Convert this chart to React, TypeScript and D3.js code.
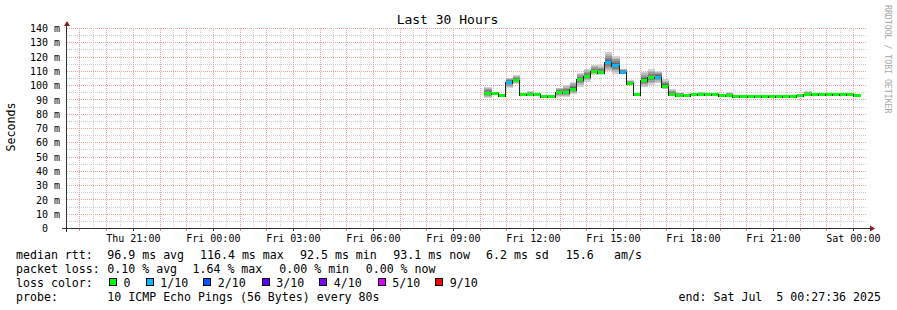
import React from "react";
import * as d3 from "d3";

const W = 897;
const H = 310;

const TITLE = "Last 30 Hours";
const Y_LABEL = "Seconds";
const WATERMARK = "RRDTOOL / TOBI OETIKER";

const START = new Date(2025, 6, 3, 18, 27, 36);
const END = new Date(2025, 6, 5, 0, 27, 36);
const DATA_START = new Date(2025, 6, 4, 10, 10, 0);
const STEP_MIN = 16;

// median rtt (ms) per 16-minute step
const median = [
  95.0, 94.5, 93.8, 102.5, 103.9, 94.3, 94.3, 94.3, 92.8, 92.8,
  95.5, 95.5, 98.0, 104.8, 106.7, 110.2, 109.7, 116.4, 114.3, 109.7,
  102.0, 94.3, 103.9, 106.0, 106.4, 100.0, 94.3, 93.3, 93.3, 94.3,
  94.3, 94.3, 94.3, 93.8, 93.8, 93.1, 93.1, 93.1, 93.1, 93.1,
  93.1, 93.1, 93.1, 93.1, 93.8, 94.3, 94.3, 94.3, 94.3, 94.3,
  94.3, 94.3, 93.7,
];
// smoke extent (lowest / highest ping, ms)
const smokeLo = [
  91.3, 93.8, 93.3, 98.3, 101.1, 93.8, 93.8, 93.8, 92.3, 92.3,
  92.4, 92.4, 94.0, 99.4, 102.9, 107.8, 107.8, 110.0, 108.2, 108.3,
  100.8, 93.8, 99.0, 100.8, 102.0, 97.4, 93.8, 92.8, 92.8, 93.8,
  93.8, 93.8, 93.8, 93.3, 93.3, 92.6, 92.6, 92.6, 92.6, 92.6,
  92.6, 92.6, 92.6, 92.6, 93.3, 93.8, 93.8, 93.8, 93.8, 93.8,
  93.8, 93.8, 93.2,
];
const smokeHi = [
  99.4, 95.2, 94.3, 105.7, 107.6, 94.8, 96.3, 94.8, 93.5, 93.5,
  98.7, 100.6, 102.7, 108.8, 111.9, 114.6, 114.2, 123.5, 121.0, 112.0,
  103.8, 94.8, 109.7, 111.4, 110.2, 104.5, 97.4, 95.5, 93.8, 94.8,
  95.8, 94.8, 94.8, 94.3, 95.3, 93.6, 93.6, 93.6, 93.6, 93.6,
  93.6, 93.6, 93.6, 93.6, 94.3, 96.3, 94.8, 94.8, 94.8, 94.8,
  94.8, 94.8, 94.2,
];
// lost pings (of 10) per step -> colour index
const lossIdx = [
  0, 0, 0, 1, 0, 0, 0, 0, 0, 0,
  0, 0, 0, 0, 0, 0, 0, 1, 1, 1,
  0, 0, 0, 0, 1, 0, 0, 0, 0, 0,
  0, 0, 0, 0, 0, 0, 0, 0, 0, 0,
  0, 0, 0, 0, 0, 0, 0, 0, 0, 0,
  0, 0, 0,
];

const lossColors = ["#00ff00", "#00b8ff", "#0059ff", "#5e00ff", "#7e00ff", "#dd00ff", "#ff0000"];
const lossLabels = ["0", "1/10", "2/10", "3/10", "4/10", "5/10", "9/10"];
const swatchX = [109, 145.7, 203.3, 261.7, 319.3, 377.7, 435.3];

const yTicks = [0, 10, 20, 30, 40, 50, 60, 70, 80, 90, 100, 110, 120, 130, 140];

const line1 = [
  { x: 16, t: "median rtt:" },
  { x: 107.3, t: "96.9 ms avg" },
  { x: 200, t: "116.4 ms max" },
  { x: 300, t: "92.5 ms min" },
  { x: 393.3, t: "93.1 ms now" },
  { x: 486, t: "6.2 ms sd" },
  { x: 565.7, t: "15.6" },
  { x: 614, t: "am/s" },
];
const line2 = [
  { x: 16, t: "packet loss:" },
  { x: 107.3, t: "0.10 % avg" },
  { x: 192.5, t: "1.64 % max" },
  { x: 279.3, t: "0.00 % min" },
  { x: 365.7, t: "0.00 % now" },
];
const LOSS_LABEL = "loss color:";
const PROBE_LABEL = "probe:";
const PROBE_TEXT = "10 ICMP Echo Pings (56 Bytes) every 80s";
const END_TEXT = "end: Sat Jul  5 00:27:36 2025";

const smokeColors = ["#d2d2d2", "#b8b8b8", "#9c9c9c", "#808080", "#646464"];

const MONO = "'DejaVu Sans Mono', monospace";
const PRE = { whiteSpace: "pre" as const };

export default function App() {
  const x = d3.scaleTime().domain([START, END]).range([65.6, 865.6]);
  const y = d3.scaleLinear().domain([0, 140]).range([228.5, 28.5]);
  const px = (v: number) => Math.floor(v) + 0.5;

  const halfHours = d3.timeMinute.every(30)!.range(START, END);
  const labelHours = d3.timeHour.every(3)!.range(START, END);
  const fmt = d3.timeFormat("%a %H:%M");
  const minorY = d3.range(5, 141, 5);

  const tAt = (i: number) => d3.timeMinute.offset(DATA_START, STEP_MIN * i);

  const steps = median.map((m, i) => {
    const x0 = Math.round(x(tAt(i)));
    const x1 = Math.round(x(tAt(i + 1)));
    return { i, x0, x1, m, lo: smokeLo[i], hi: smokeHi[i], c: lossColors[lossIdx[i]] };
  });

  const nL = smokeColors.length;

  return (
    <svg
      width={W}
      height={H}
      style={{ position: "fixed", left: 0, top: 0, background: "#fff" }}
      fontFamily={MONO}
    >
      <rect x={0} y={0} width={W} height={H} fill="#ffffff" />
      {/* grid */}
      <g shapeRendering="crispEdges" strokeDasharray="1 1">
        {minorY.map((v) => (
          <line
            key={"hy" + v}
            x1={67}
            x2={866}
            y1={px(y(v))}
            y2={px(y(v))}
            stroke={v % 10 === 0 ? "#f4a0a0" : "#cfcfcf"}
          />
        ))}
        {halfHours.map((t) => {
          const xx = px(x(t));
          if (xx < 67) return null;
          const major = t.getMinutes() === 0;
          return (
            <line
              key={"vx" + t.getTime()}
              x1={xx}
              x2={xx}
              y1={28}
              y2={228}
              stroke={major ? "#f4a0a0" : "#cfcfcf"}
            />
          );
        })}
      </g>
      {/* smoke */}
      <g shapeRendering="crispEdges">
        {steps.map((s) =>
          smokeColors.map((col, k) => {
            const f = 1 - k / nL;
            const top = y(s.m + (s.hi - s.m) * f);
            const bot = y(s.m - (s.m - s.lo) * f);
            return (
              <rect
                key={"s" + s.i + "-" + k}
                x={s.x0}
                y={top}
                width={s.x1 - s.x0}
                height={Math.max(0, bot - top)}
                fill={col}
              />
            );
          })
        )}
      </g>
      {/* median line */}
      <g shapeRendering="crispEdges">
        {steps.map((s) => (
          <rect
            key={"m" + s.i}
            x={s.x0}
            y={Math.round(y(s.m)) - 1}
            width={s.x1 - s.x0}
            height={3}
            fill={s.c}
          />
        ))}
        {steps.slice(0, -1).map((s) => {
          const n = steps[s.i + 1];
          const ya = Math.round(y(s.m));
          const yb = Math.round(y(n.m));
          return (
            <line
              key={"v" + s.i}
              x1={s.x1 - 0.5}
              x2={s.x1 - 0.5}
              y1={Math.min(ya, yb) - 0.5}
              y2={Math.max(ya, yb) + 1.5}
              stroke="#202020"
              strokeWidth={1}
            />
          );
        })}
      </g>
      {/* axes */}
      <g shapeRendering="crispEdges">
        <line x1={62} x2={871} y1={228.5} y2={228.5} stroke="#333" />
        <line x1={66.5} x2={66.5} y1={25} y2={232} stroke="#333" />
        {halfHours
          .filter((t) => t.getMinutes() === 0)
          .map((t) => (
            <line
              key={"tk" + t.getTime()}
              x1={px(x(t))}
              x2={px(x(t))}
              y1={229}
              y2={231}
              stroke={t.getHours() % 3 === 0 ? "#333" : "#e08080"}
            />
          ))}
      </g>
      <path d="M67,21 L64,26 L70,26 Z" fill="#7f1f1f" />
      <path d="M875,228.5 L870,225.5 L870,231.5 Z" fill="#7f1f1f" />
      {/* y tick labels */}
      <g fontSize={10} fill="#000">
        {yTicks.map((v) => (
          <text key={"yl" + v} x={60} y={y(v) + 3.6} textAnchor="end" xmlSpace="preserve" style={PRE}>
            {v === 0 ? "0  " : `${v} m`}
          </text>
        ))}
      </g>
      {/* x tick labels */}
      <g fontSize={10} fill="#000">
        {labelHours.map((t) => (
          <text key={"xl" + t.getTime()} x={x(t)} y={241.5} textAnchor="middle">
            {fmt(t)}
          </text>
        ))}
      </g>
      {/* title */}
      <text x={447.5} y={24} fontSize={13} textAnchor="middle" fill="#000">
        {TITLE}
      </text>
      <text
        x={0}
        y={0}
        fontSize={11.6}
        textAnchor="middle"
        transform="translate(15,127) rotate(-90)"
        fill="#000"
      >
        {Y_LABEL}
      </text>
      <text x={0} y={0} fontSize={8.2} fill="#a8a8a8" transform="translate(884.5,5) rotate(90)" xmlSpace="preserve" style={PRE}>
        {WATERMARK}
      </text>
      {/* legend */}
      <g fontSize={11.6} fill="#000">
        {line1.map((d) => (
          <text key={"l1" + d.x} x={d.x} y={258.5} xmlSpace="preserve" style={PRE}>
            {d.t}
          </text>
        ))}
        {line2.map((d) => (
          <text key={"l2" + d.x} x={d.x} y={272.5} xmlSpace="preserve" style={PRE}>
            {d.t}
          </text>
        ))}
        <text x={16} y={286.5}>
          {LOSS_LABEL}
        </text>
        {lossLabels.map((lab, k) => (
          <g key={"lc" + k}>
            <rect
              x={swatchX[k] + 0.5}
              y={278.5}
              width={7}
              height={7}
              fill={lossColors[k]}
              stroke="#000"
              strokeWidth={1}
              shapeRendering="crispEdges"
            />
            <text x={swatchX[k] + 14.5} y={286.5}>
              {lab}
            </text>
          </g>
        ))}
        <text x={16} y={300.5}>
          {PROBE_LABEL}
        </text>
        <text x={107.3} y={300.5} xmlSpace="preserve" style={PRE}>
          {PROBE_TEXT}
        </text>
        <text x={881} y={300.5} textAnchor="end" xmlSpace="preserve" style={PRE}>
          {END_TEXT}
        </text>
      </g>
    </svg>
  );
}
